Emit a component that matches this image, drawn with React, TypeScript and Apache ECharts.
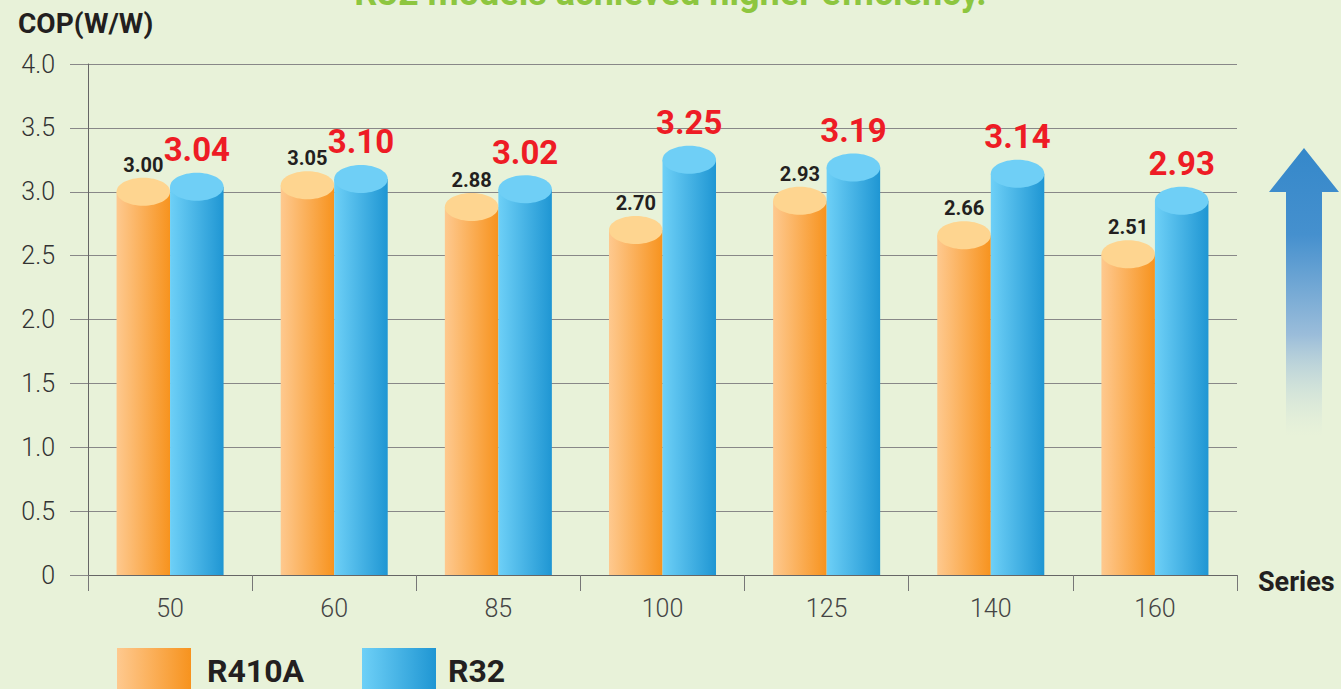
import React, { useEffect, useRef } from "react";
import * as echarts from "echarts";

const categories = ["50", "60", "85", "100", "125", "140", "160"];
const r410aValues = [3.0, 3.05, 2.88, 2.7, 2.93, 2.66, 2.51];
const r32Values = [3.04, 3.1, 3.02, 3.25, 3.19, 3.14, 2.93];
const seriesNames = ["R410A", "R32"];
const titleText = "R32 models achieved higher efficiency.";
const yAxisTitle = "COP(W/W)";
const xAxisTitle = "Series";

const BG = "#E8F2D9";
const FONT = "Roboto, 'Noto Sans', sans-serif";

const orangeGrad = () =>
  new echarts.graphic.LinearGradient(0, 0, 1, 0, [
    { offset: 0, color: "#FEC98F" },
    { offset: 1, color: "#F7931E" },
  ]);
const blueGrad = () =>
  new echarts.graphic.LinearGradient(0, 0, 1, 0, [
    { offset: 0, color: "#6ED0F7" },
    { offset: 1, color: "#1F96D3" },
  ]);

function makeRenderItem(which: number) {
  return (params: any, api: any) => {
    const i = api.value(0);
    const v = api.value(1);
    const p = api.coord([i, v]);
    const b = api.coord([i, 0]);
    const bw = api.size([1, 0])[0] * 0.326;
    const x = which === 0 ? p[0] - bw : p[0];
    const cx = x + bw / 2;
    const ry = 14;
    const label = v.toFixed(2);
    return {
      type: "group",
      children: [
        {
          type: "rect",
          shape: { x, y: p[1], width: bw, height: b[1] - p[1] },
          style: { fill: which === 0 ? orangeGrad() : blueGrad() },
        },
        {
          type: "ellipse",
          shape: { cx, cy: p[1], rx: bw / 2, ry },
          style: { fill: which === 0 ? "#FED590" : "#6FCFF6" },
        },
        {
          type: "text",
          style: {
            text: label,
            x: cx,
            y: which === 0 ? p[1] - 27 : p[1] - 37,
            align: "center",
            verticalAlign: "middle",
            fill: which === 0 ? "#231F20" : "#EE1C25",
            fontSize: which === 0 ? 20 : 33,
            fontWeight: "bold",
            fontFamily: FONT,
          },
        },
      ],
    };
  };
}

export default function App() {
  const ref = useRef<HTMLDivElement>(null);
  useEffect(() => {
    if (!ref.current) return;
    const chart = echarts.init(ref.current, null, { renderer: "svg" });
    chart.setOption({
      animation: false,
      backgroundColor: BG,
      grid: { left: 88, right: 104, top: 64, bottom: 114 },
      xAxis: {
        type: "category",
        data: categories,
        axisLine: { show: true, lineStyle: { color: "#666", width: 1 } },
        axisTick: { show: true, length: 16, lineStyle: { color: "#777" } },
        axisLabel: {
          margin: 21,
          color: "#444",
          fontSize: 25,
          fontWeight: 300,
          fontFamily: FONT,
        },
      },
      yAxis: {
        type: "value",
        min: 0,
        max: 4,
        interval: 0.5,
        axisLine: { show: true, lineStyle: { color: "#666", width: 1 } },
        axisTick: { show: true, length: 18, lineStyle: { color: "#888" } },
        splitLine: { show: true, lineStyle: { color: "#888", width: 1 } },
        axisLabel: {
          margin: 33,
          color: "#333",
          fontSize: 25,
          fontWeight: 300,
          fontFamily: FONT,
          formatter: (v: number) => (v === 0 ? "0" : v.toFixed(1)),
        },
      },
      series: [
        {
          type: "custom",
          name: seriesNames[0],
          renderItem: makeRenderItem(0),
          data: categories.map((c, i) => [i, r410aValues[i]]),
          encode: { x: 0, y: 1 },
          z: 3,
        },
        {
          type: "custom",
          name: seriesNames[1],
          renderItem: makeRenderItem(1),
          data: categories.map((c, i) => [i, r32Values[i]]),
          encode: { x: 0, y: 1 },
          z: 3,
        },
      ],
      graphic: [
        {
          type: "text",
          left: "center",
          style: {
            text: titleText,
            x: 664,
            y: -7,
            align: "center",
            verticalAlign: "middle",
            fill: "#8DC63F",
            fontSize: 36,
            fontWeight: "bold",
            fontFamily: FONT,
          },
          z: 10,
        },
        {
          type: "text",
          style: {
            text: yAxisTitle,
            x: 18,
            y: 23,
            align: "left",
            verticalAlign: "middle",
            fill: "#231F20",
            fontSize: 28,
            fontWeight: "bold",
            fontFamily: FONT,
          },
        },
        {
          type: "text",
          style: {
            text: xAxisTitle,
            x: 1258,
            y: 582,
            align: "left",
            verticalAlign: "middle",
            fill: "#231F20",
            fontSize: 27,
            fontWeight: "bold",
            fontFamily: FONT,
          },
        },
        {
          type: "rect",
          shape: { x: 117, y: 648, width: 74, height: 45 },
          style: { fill: orangeGrad() },
        },
        {
          type: "text",
          style: {
            text: seriesNames[0],
            x: 207,
            y: 671,
            align: "left",
            verticalAlign: "middle",
            fill: "#231F20",
            fontSize: 32,
            fontWeight: "bold",
            fontFamily: FONT,
          },
        },
        {
          type: "rect",
          shape: { x: 362, y: 648, width: 74, height: 45 },
          style: { fill: blueGrad() },
        },
        {
          type: "text",
          style: {
            text: seriesNames[1],
            x: 448,
            y: 671,
            align: "left",
            verticalAlign: "middle",
            fill: "#231F20",
            fontSize: 32,
            fontWeight: "bold",
            fontFamily: FONT,
          },
        },
        {
          type: "polygon",
          shape: {
            points: [
              [1304, 148],
              [1339, 192],
              [1322, 192],
              [1322, 436],
              [1286, 436],
              [1286, 192],
              [1269, 192],
            ],
          },
          style: {
            fill: new echarts.graphic.LinearGradient(0, 0, 0, 1, [
              { offset: 0, color: "#3588CA" },
              { offset: 0.3, color: "#4590CE" },
              { offset: 0.65, color: "#9BBDDA" },
              { offset: 1, color: "rgba(232,242,217,0.3)" },
            ]),
          },
        },
      ],
    });
    return () => chart.dispose();
  }, []);
  return (
    <div
      ref={ref}
      style={{ position: "fixed", left: 0, top: 0, width: 1341, height: 689 }}
    />
  );
}
